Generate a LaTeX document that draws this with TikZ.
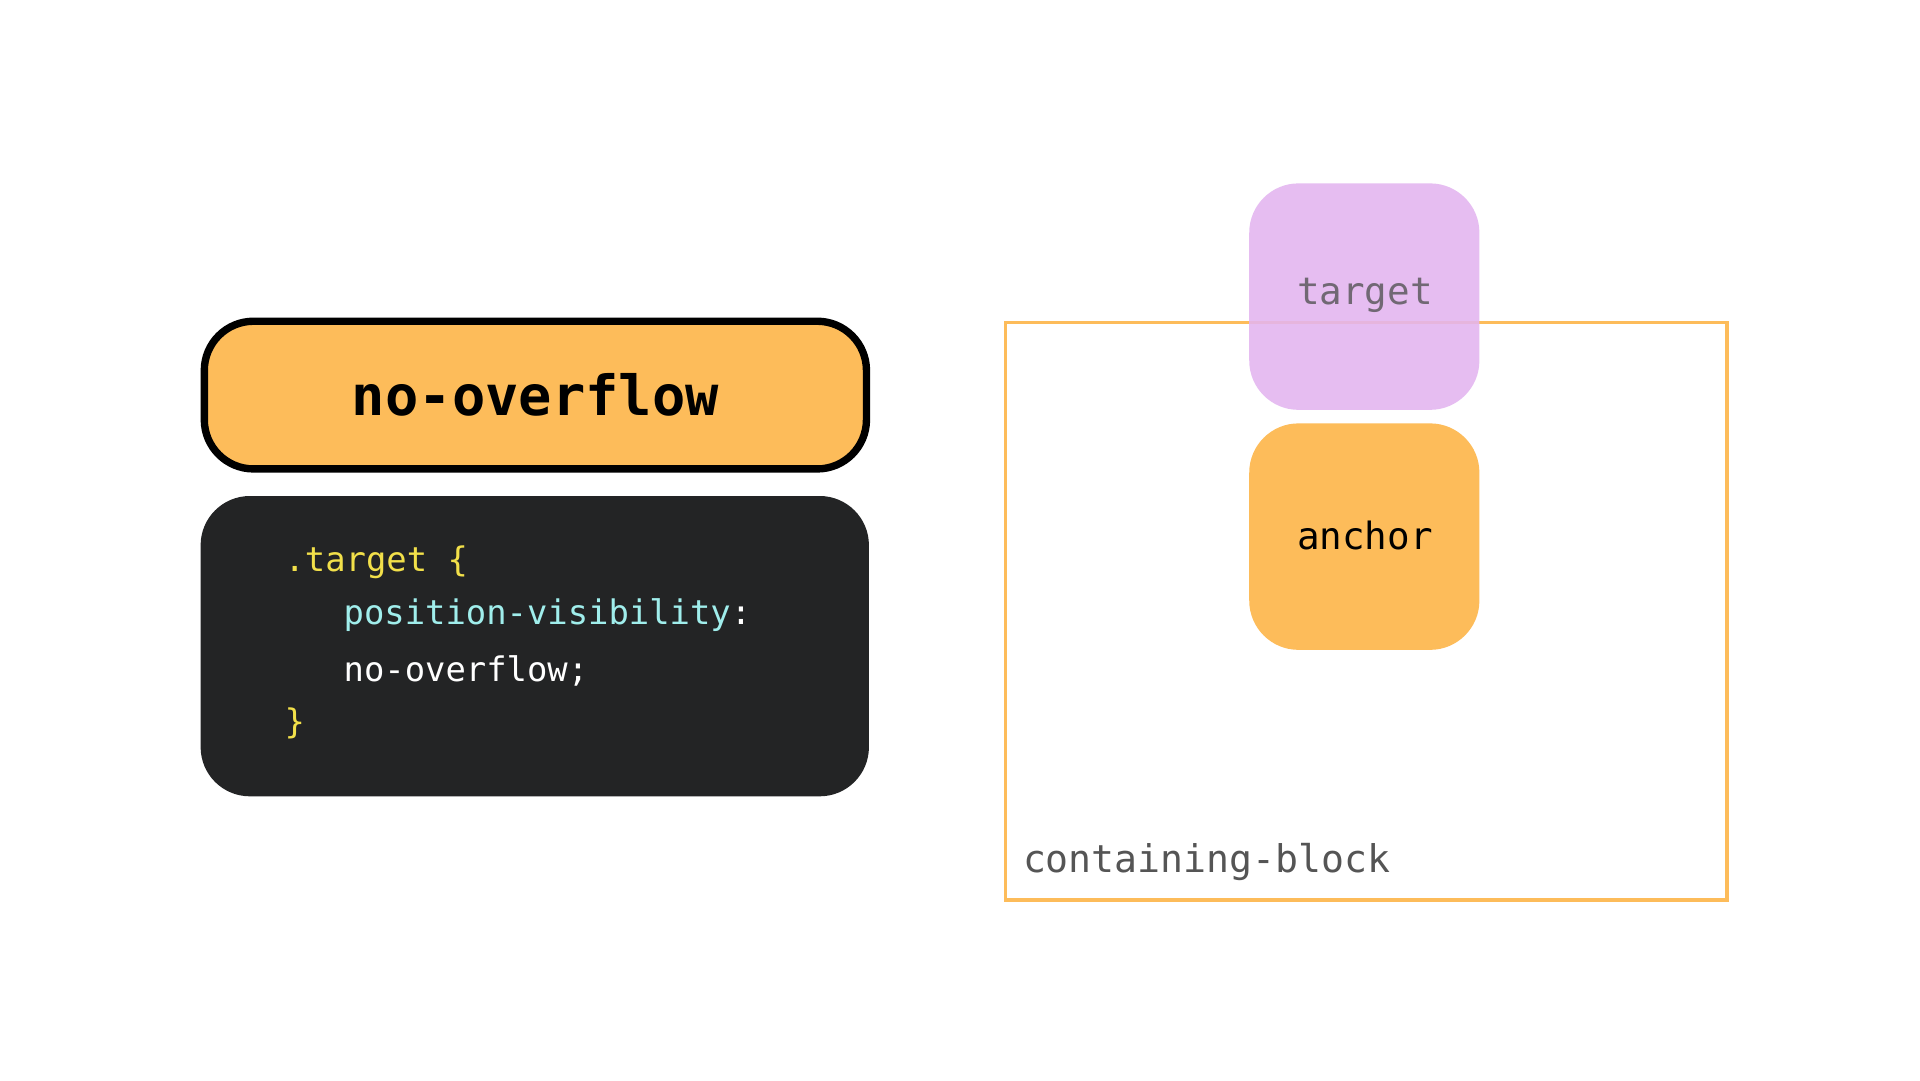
\documentclass[tikz,border=0pt]{standalone}
\usepackage{fontspec}
\setmonofont{DejaVu Sans Mono}
\definecolor{org}{HTML}{FDBC5A}
\definecolor{codebg}{HTML}{232425}
\definecolor{cyel}{HTML}{F2E04A}
\definecolor{ccyan}{HTML}{A0EEEC}
\definecolor{purp}{HTML}{E3B5F0}
\definecolor{gtxt}{HTML}{555555}
\begin{document}
\begin{tikzpicture}[x=1pt,y=-1pt,
  card/.style={rounded corners=40pt},
  code/.style={font=\ttfamily\fontsize{27.5}{30}\selectfont,anchor=west,inner sep=0pt}]
\useasboundingbox[fill=white] (0,0) rectangle (1560,878);
\draw[card,line width=6pt,fill=org] (166,261) rectangle (704,381);
\node[font=\ttfamily\bfseries\fontsize{45}{50}\selectfont] (title) at (435,321) {no-overflow};
\fill[card,codebg] (163,403) rectangle (706,647);
\node[code,text=cyel] (l1) at (231,457) {.target \{};
\node[code,text=ccyan] (l2) at (279,500) {position-visibility\textcolor{white}{:}};
\node[code,text=white] (l3) at (279,545) {no-overflow;};
\node[code,text=cyel] (l4) at (231,588) {\}};
\draw[org,line width=3pt] (817,262) rectangle (1403,731);
\node[font=\ttfamily\fontsize{31}{34}\selectfont,text=gtxt,anchor=west,inner sep=0pt] (cb) at (831,700) {containing-block};
\fill[card,purp,opacity=0.88] (1015,149) rectangle (1202,333);
\node[font=\ttfamily\fontsize{30.5}{34}\selectfont,text=gtxt!80!purp] (t) at (1109,240) {target};
\fill[card,org] (1015,344) rectangle (1202,528);
\node[font=\ttfamily\fontsize{30.5}{34}\selectfont] (a) at (1109,435) {anchor};
\end{tikzpicture}
\end{document}
